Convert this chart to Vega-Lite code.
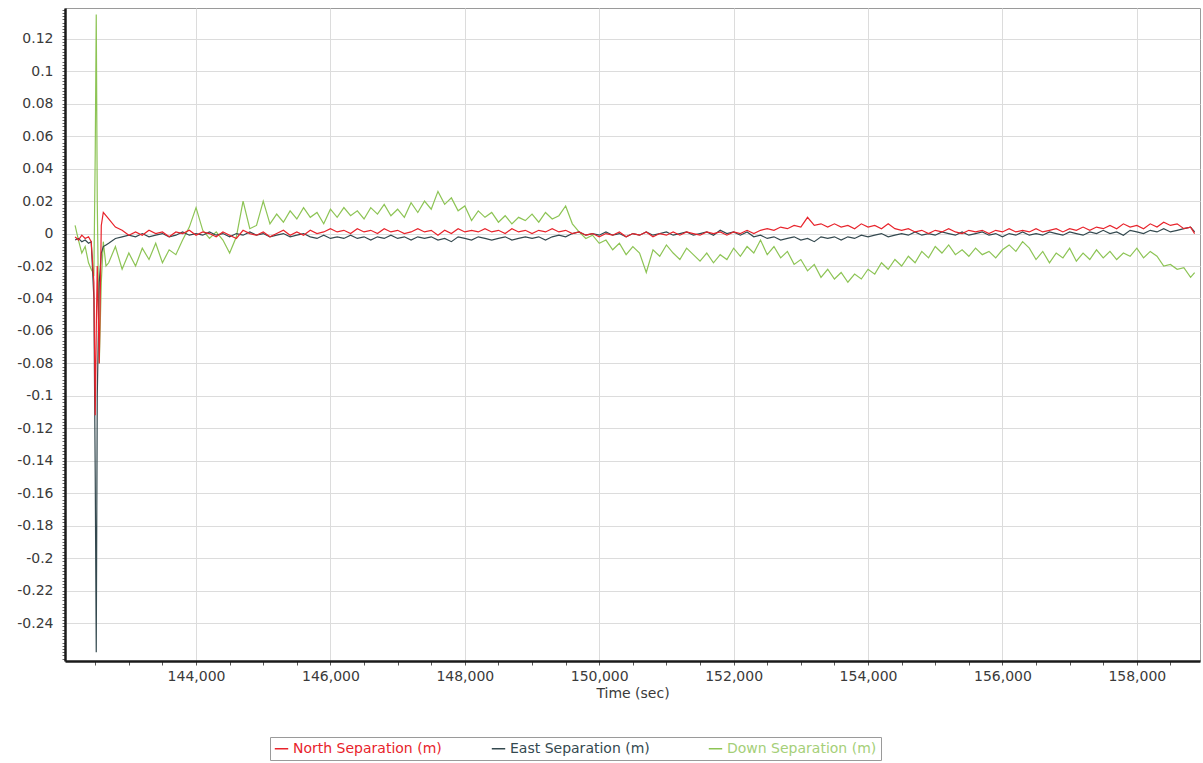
{
"$schema": "https://vega.github.io/schema/vega-lite/v6.json",
"width": 1135, "height": 653,
"autosize": "none",
"padding": {"left": 65, "top": 8, "right": 3, "bottom": 102},
"background": "white",
"config": {"view": {"stroke": "#9a9a9a", "strokeWidth": 1}, "font": "DejaVu Sans"},
"data": {"values": [
{"t":142200,"N":-0.002,"E":-0.004,"D":0.005},
{"t":142250,"N":-0.004,"E":-0.003,"D":-0.004},
{"t":142300,"N":-0.001,"E":-0.005,"D":-0.012},
{"t":142350,"N":-0.003,"E":-0.004,"D":-0.008},
{"t":142400,"N":-0.002,"E":-0.006,"D":-0.018},
{"t":142440,"N":-0.005,"E":-0.005,"D":-0.022},
{"t":142480,"N":-0.03,"E":-0.04,"D":-0.025},
{"t":142500,"N":-0.112,"E":-0.15,"D":0.05},
{"t":142515,"N":-0.06,"E":-0.258,"D":0.135},
{"t":142530,"N":-0.02,"E":-0.1,"D":0.02},
{"t":142560,"N":-0.08,"E":-0.03,"D":-0.08},
{"t":142590,"N":0.005,"E":-0.012,"D":-0.03},
{"t":142620,"N":0.013,"E":-0.008,"D":-0.005},
{"t":142660,"N":0.011,"E":-0.007,"D":-0.02},
{"t":142700,"N":0.009,"E":-0.006,"D":-0.018},
{"t":142800,"N":0.004,"E":-0.003,"D":-0.008},
{"t":142900,"N":0.002,"E":-0.002,"D":-0.022},
{"t":143000,"N":-0.001,"E":-0.001,"D":-0.012},
{"t":143100,"N":0.001,"E":-0.002,"D":-0.02},
{"t":143200,"N":-0.001,"E":0,"D":-0.009},
{"t":143300,"N":0.002,"E":-0.002,"D":-0.016},
{"t":143400,"N":0,"E":-0.001,"D":-0.006},
{"t":143500,"N":0.001,"E":0,"D":-0.018},
{"t":143600,"N":-0.002,"E":-0.002,"D":-0.01},
{"t":143700,"N":0.001,"E":-0.001,"D":-0.013},
{"t":143800,"N":0,"E":0.001,"D":-0.004},
{"t":143900,"N":0.002,"E":-0.001,"D":0.004},
{"t":144000,"N":-0.001,"E":0,"D":0.016},
{"t":144100,"N":0.001,"E":-0.001,"D":0.002},
{"t":144200,"N":0,"E":0.001,"D":-0.003},
{"t":144300,"N":-0.002,"E":-0.001,"D":0.001},
{"t":144400,"N":0.001,"E":0,"D":-0.004},
{"t":144500,"N":-0.001,"E":-0.002,"D":-0.012},
{"t":144600,"N":-0.003,"E":0,"D":-0.002},
{"t":144700,"N":0.002,"E":-0.001,"D":0.02},
{"t":144800,"N":0,"E":0.001,"D":0.003},
{"t":144900,"N":-0.001,"E":-0.001,"D":0.005},
{"t":145000,"N":0.001,"E":0,"D":0.02},
{"t":145100,"N":-0.002,"E":-0.002,"D":0.006},
{"t":145200,"N":0,"E":-0.001,"D":0.012},
{"t":145300,"N":0.002,"E":0,"D":0.007},
{"t":145400,"N":-0.001,"E":-0.002,"D":0.014},
{"t":145500,"N":0.001,"E":-0.001,"D":0.009},
{"t":145600,"N":-0.001,"E":0,"D":0.016},
{"t":145700,"N":0.002,"E":-0.002,"D":0.01},
{"t":145800,"N":0,"E":-0.003,"D":0.013},
{"t":145900,"N":0.001,"E":-0.001,"D":0.006},
{"t":146000,"N":0.003,"E":-0.003,"D":0.015},
{"t":146100,"N":0.001,"E":-0.002,"D":0.01},
{"t":146200,"N":0.002,"E":-0.003,"D":0.016},
{"t":146300,"N":0,"E":-0.001,"D":0.011},
{"t":146400,"N":0.003,"E":-0.003,"D":0.014},
{"t":146500,"N":0.001,"E":-0.002,"D":0.009},
{"t":146600,"N":0.002,"E":-0.004,"D":0.016},
{"t":146700,"N":0,"E":-0.002,"D":0.012},
{"t":146800,"N":0.003,"E":-0.003,"D":0.018},
{"t":146900,"N":0.001,"E":-0.001,"D":0.011},
{"t":147000,"N":0.002,"E":-0.003,"D":0.015},
{"t":147100,"N":0,"E":-0.002,"D":0.01},
{"t":147200,"N":0.001,"E":-0.004,"D":0.019},
{"t":147300,"N":0.003,"E":-0.002,"D":0.013},
{"t":147400,"N":0.001,"E":-0.003,"D":0.02},
{"t":147500,"N":0.002,"E":-0.002,"D":0.015},
{"t":147600,"N":-0.001,"E":-0.004,"D":0.026},
{"t":147700,"N":0.002,"E":-0.003,"D":0.018},
{"t":147800,"N":0,"E":-0.005,"D":0.022},
{"t":147900,"N":0.003,"E":-0.002,"D":0.014},
{"t":148000,"N":0.001,"E":-0.003,"D":0.017},
{"t":148100,"N":0.002,"E":-0.004,"D":0.008},
{"t":148200,"N":0.001,"E":-0.002,"D":0.014},
{"t":148300,"N":0.003,"E":-0.003,"D":0.01},
{"t":148400,"N":0.001,"E":-0.004,"D":0.013},
{"t":148500,"N":0.002,"E":-0.003,"D":0.007},
{"t":148600,"N":0,"E":-0.002,"D":0.011},
{"t":148700,"N":0.003,"E":-0.004,"D":0.006},
{"t":148800,"N":0.001,"E":-0.003,"D":0.01},
{"t":148900,"N":0.002,"E":-0.002,"D":0.008},
{"t":149000,"N":0,"E":-0.003,"D":0.012},
{"t":149100,"N":0.002,"E":-0.002,"D":0.007},
{"t":149200,"N":0.001,"E":-0.004,"D":0.013},
{"t":149300,"N":0.003,"E":-0.002,"D":0.009},
{"t":149400,"N":0.001,"E":-0.001,"D":0.011},
{"t":149500,"N":0.002,"E":-0.002,"D":0.017},
{"t":149600,"N":0,"E":0,"D":0.006},
{"t":149700,"N":0.001,"E":0.001,"D":0.001},
{"t":149800,"N":-0.001,"E":-0.001,"D":-0.003},
{"t":149900,"N":0,"E":0,"D":-0.001},
{"t":150000,"N":-0.002,"E":-0.001,"D":-0.006},
{"t":150100,"N":0,"E":0.001,"D":-0.004},
{"t":150200,"N":-0.001,"E":-0.001,"D":-0.01},
{"t":150300,"N":0.001,"E":0,"D":-0.006},
{"t":150400,"N":-0.002,"E":-0.002,"D":-0.013},
{"t":150500,"N":0,"E":0,"D":-0.008},
{"t":150600,"N":-0.001,"E":-0.001,"D":-0.012},
{"t":150700,"N":0.001,"E":0.001,"D":-0.024},
{"t":150800,"N":-0.002,"E":-0.001,"D":-0.01},
{"t":150900,"N":0,"E":0,"D":-0.014},
{"t":151000,"N":-0.001,"E":0.001,"D":-0.007},
{"t":151100,"N":0.001,"E":-0.001,"D":-0.012},
{"t":151200,"N":-0.001,"E":0,"D":-0.016},
{"t":151300,"N":0.001,"E":0.001,"D":-0.009},
{"t":151400,"N":0,"E":-0.001,"D":-0.013},
{"t":151500,"N":-0.001,"E":0,"D":-0.017},
{"t":151600,"N":0.001,"E":0.001,"D":-0.012},
{"t":151700,"N":0,"E":-0.001,"D":-0.018},
{"t":151800,"N":0.001,"E":0.002,"D":-0.013},
{"t":151900,"N":-0.001,"E":0,"D":-0.016},
{"t":152000,"N":0.001,"E":0.001,"D":-0.009},
{"t":152100,"N":0,"E":-0.001,"D":-0.014},
{"t":152200,"N":0.002,"E":0.001,"D":-0.008},
{"t":152300,"N":0,"E":-0.002,"D":-0.012},
{"t":152400,"N":0.002,"E":-0.001,"D":-0.004},
{"t":152500,"N":0.003,"E":-0.003,"D":-0.013},
{"t":152600,"N":0.002,"E":-0.002,"D":-0.008},
{"t":152700,"N":0.004,"E":-0.004,"D":-0.015},
{"t":152800,"N":0.003,"E":-0.003,"D":-0.011},
{"t":152900,"N":0.005,"E":-0.002,"D":-0.019},
{"t":153000,"N":0.004,"E":-0.004,"D":-0.016},
{"t":153100,"N":0.01,"E":-0.003,"D":-0.023},
{"t":153200,"N":0.005,"E":-0.005,"D":-0.019},
{"t":153300,"N":0.006,"E":-0.002,"D":-0.027},
{"t":153400,"N":0.004,"E":-0.003,"D":-0.022},
{"t":153500,"N":0.006,"E":-0.002,"D":-0.028},
{"t":153600,"N":0.004,"E":-0.004,"D":-0.024},
{"t":153700,"N":0.005,"E":-0.002,"D":-0.03},
{"t":153800,"N":0.003,"E":-0.003,"D":-0.025},
{"t":153900,"N":0.006,"E":-0.001,"D":-0.028},
{"t":154000,"N":0.004,"E":-0.002,"D":-0.022},
{"t":154100,"N":0.005,"E":-0.001,"D":-0.025},
{"t":154200,"N":0.003,"E":0,"D":-0.018},
{"t":154300,"N":0.006,"E":-0.002,"D":-0.022},
{"t":154400,"N":0.003,"E":-0.001,"D":-0.016},
{"t":154500,"N":0.002,"E":0,"D":-0.02},
{"t":154600,"N":0.003,"E":-0.001,"D":-0.014},
{"t":154700,"N":0.001,"E":0.001,"D":-0.018},
{"t":154800,"N":0.002,"E":-0.001,"D":-0.011},
{"t":154900,"N":0,"E":0,"D":-0.015},
{"t":155000,"N":0.002,"E":-0.001,"D":-0.008},
{"t":155100,"N":0.001,"E":0.001,"D":-0.012},
{"t":155200,"N":0.003,"E":0,"D":-0.007},
{"t":155300,"N":0.001,"E":-0.001,"D":-0.013},
{"t":155400,"N":0,"E":0.001,"D":-0.01},
{"t":155500,"N":0.002,"E":-0.001,"D":-0.014},
{"t":155600,"N":0.001,"E":0,"D":-0.009},
{"t":155700,"N":0.002,"E":0.001,"D":-0.013},
{"t":155800,"N":0,"E":-0.001,"D":-0.011},
{"t":155900,"N":0.002,"E":0,"D":-0.015},
{"t":156000,"N":0.001,"E":-0.002,"D":-0.01},
{"t":156100,"N":0.003,"E":0,"D":-0.007},
{"t":156200,"N":0.001,"E":-0.001,"D":-0.011},
{"t":156300,"N":0.002,"E":0.001,"D":-0.005},
{"t":156400,"N":0.001,"E":-0.001,"D":-0.009},
{"t":156500,"N":0.003,"E":0,"D":-0.016},
{"t":156600,"N":0.001,"E":-0.001,"D":-0.011},
{"t":156700,"N":0.002,"E":0.001,"D":-0.018},
{"t":156800,"N":0.003,"E":0,"D":-0.012},
{"t":156900,"N":0.001,"E":-0.001,"D":-0.015},
{"t":157000,"N":0.003,"E":0.001,"D":-0.009},
{"t":157100,"N":0.002,"E":0,"D":-0.017},
{"t":157200,"N":0.004,"E":-0.001,"D":-0.012},
{"t":157300,"N":0.002,"E":0.001,"D":-0.016},
{"t":157400,"N":0.004,"E":0,"D":-0.01},
{"t":157500,"N":0.003,"E":0.002,"D":-0.015},
{"t":157600,"N":0.005,"E":0,"D":-0.011},
{"t":157700,"N":0.003,"E":0.001,"D":-0.016},
{"t":157800,"N":0.006,"E":-0.001,"D":-0.012},
{"t":157900,"N":0.004,"E":0.002,"D":-0.014},
{"t":158000,"N":0.005,"E":0.001,"D":-0.009},
{"t":158100,"N":0.003,"E":0,"D":-0.015},
{"t":158200,"N":0.006,"E":0.002,"D":-0.011},
{"t":158300,"N":0.004,"E":0.001,"D":-0.014},
{"t":158400,"N":0.007,"E":0.003,"D":-0.02},
{"t":158500,"N":0.005,"E":0.001,"D":-0.019},
{"t":158600,"N":0.006,"E":0.002,"D":-0.022},
{"t":158700,"N":0.003,"E":0.003,"D":-0.021},
{"t":158800,"N":0.004,"E":0.004,"D":-0.027},
{"t":158860,"N":0,"E":0.001,"D":-0.024}
]},
"transform": [{"fold": ["D", "E", "N"], "as": ["s", "v"]}],
"mark": {"type": "line", "strokeWidth": 1.2, "clip": true},
"encoding": {
  "x": {"field": "t", "type": "quantitative",
    "scale": {"domain": [142050, 158940], "nice": false, "zero": false},
    "axis": {"title": "Time (sec)", "tickCount": 34,
      "labelExpr": "datum.value % 2000 === 0 ? format(datum.value, ',') : ''",
      "grid": true,
      "gridOpacity": {"condition": {"test": "datum.value % 2000 === 0", "value": 1}, "value": 0},
      "gridColor": "#dcdcdc", "gridWidth": 1,
      "domainColor": "#1a1a1a", "domainWidth": 2.5,
      "tickColor": "#555", "tickSize": 4, "tickWidth": 1,
      "labelFont": "DejaVu Sans", "labelFontSize": 14, "labelColor": "#3a3a3a",
      "labelPadding": 4, "labelOverlap": false, "labelFlush": false,
      "titleFont": "DejaVu Sans", "titleFontSize": 14, "titleFontWeight": "normal", "titleColor": "#3a3a3a", "titlePadding": 3}},
  "y": {"field": "v", "type": "quantitative",
    "scale": {"domain": [-0.2634, 0.139], "nice": false, "zero": false},
    "axis": {"title": null, "tickCount": 200,
      "labelExpr": "abs(round(datum.value*1000)) % 20 === 0 && datum.value > -0.25 ? replace(format(datum.value, '~g'), '−', '-') : ''",
      "grid": true,
      "gridOpacity": {"condition": {"test": "abs(round(datum.value*1000)) % 20 === 0 && datum.value > -0.25", "value": 1}, "value": 0},
      "gridColor": "#dcdcdc", "gridWidth": 1,
      "domainColor": "#1a1a1a", "domainWidth": 2.5,
      "tickColor": "#666", "tickSize": 3, "tickWidth": 1,
      "labelFont": "DejaVu Sans", "labelFontSize": 14, "labelColor": "#3a3a3a",
      "labelPadding": 9, "labelOverlap": false, "labelFlush": false}},
  "color": {"field": "s", "type": "nominal",
    "scale": {"domain": ["N", "E", "D"], "range": ["#e8232b", "#34494f", "#8dc455"]},
    "legend": {"title": null, "orient": "none", "legendX": 205, "legendY": 729,
      "direction": "horizontal", "strokeColor": "#9a9a9a", "fillColor": "white", "padding": 4,
      "symbolType": "stroke", "symbolSize": 180, "symbolStrokeWidth": 1.5,
      "labelFont": "DejaVu Sans", "labelFontSize": 14, "columnPadding": 45, "gridAlign": "all",
      "labelExpr": "datum.label === 'N' ? 'North Separation (m)' : datum.label === 'E' ? 'East Separation (m)' : 'Down Separation (m)'",
      "encode": {"labels": {"update": {"fill": {"signal": "datum.value === 'N' ? '#e8232b' : datum.value === 'E' ? '#34494f' : '#a5cf78'"}}}}}}
}
}
